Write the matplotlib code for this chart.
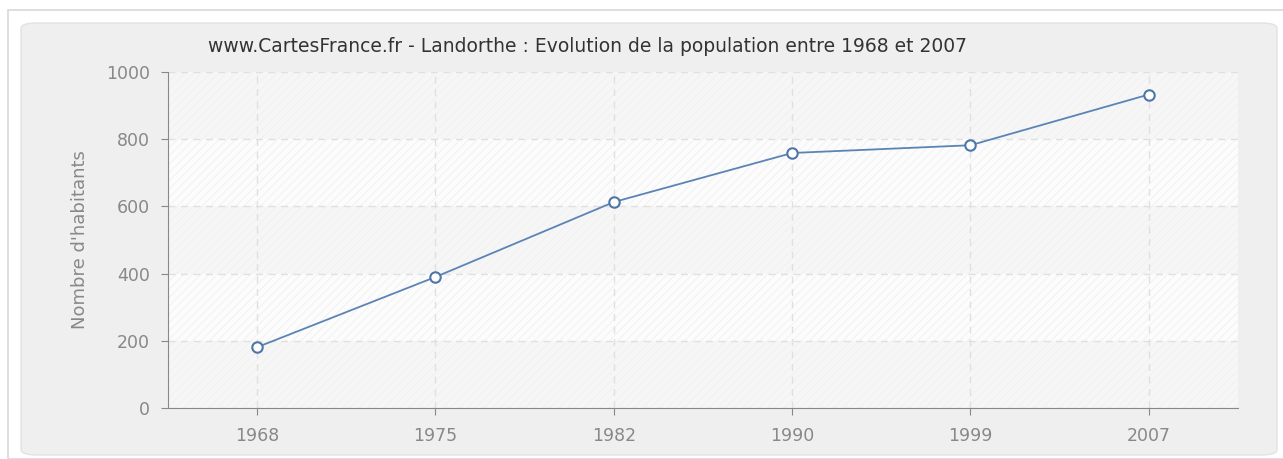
import matplotlib.pyplot as plt
from matplotlib.patches import FancyBboxPatch, Rectangle

years = ["1968", "1975", "1982", "1990", "1999", "2007"]
population = [181, 390, 613, 759, 782, 933]
yticks = [0, 200, 400, 600, 800, 1000]

plt.rcParams["font.family"] = ["DejaVu Sans"]
plt.rcParams["hatch.linewidth"] = 0.6

fig = plt.figure(figsize=(12.83, 4.59), dpi=100)
fig.patch.set_facecolor("white")

# outer frame and grey rounded panel (behind the axes)
fig.patches.append(Rectangle((8 / 1283, 0), 1.0, 449 / 459, transform=fig.transFigure,
                             facecolor="white", edgecolor="#d8d8d8", lw=1.2, zorder=-2))
fig.patches.append(FancyBboxPatch((21 / 1283, 4 / 459), 1256 / 1283, 432 / 459,
                                  boxstyle="round,pad=0,rounding_size=0.012",
                                  transform=fig.transFigure, facecolor="#efefef",
                                  edgecolor="#e2e2e2", lw=1, zorder=-1))

ax = fig.add_axes([168 / 1283, 51 / 459, 1070 / 1283, 336 / 459])
ax.set_facecolor("#fafafa")
x = range(len(years))
ax.set_xlim(-0.5, len(years) - 0.5)
ax.set_ylim(0, 1000)

# alternating bands with faint hatching
for i in range(5):
    ax.axhspan(i * 200, (i + 1) * 200, facecolor="#f6f6f6" if i % 2 == 0 else "#fcfcfc",
               edgecolor="#f0f0f0", hatch="////", lw=0, zorder=0)

ax.grid(True, color="#e0e0e0", ls=(0, (5, 4)), lw=1)
ax.set_axisbelow(True)
ax.plot(x, population, color="#5b84b5", lw=1.3, marker="o", ms=7.5,
        mfc="white", mec="#4e76a8", mew=1.5, zorder=3)

ax.set_xticks(list(x))
ax.set_xticklabels(years)
ax.set_yticks(yticks)
for s in ["top", "right"]:
    ax.spines[s].set_visible(False)
for s in ["left", "bottom"]:
    ax.spines[s].set_color("#888888")
ax.tick_params(colors="#888888", labelcolor="#888888", labelsize=12.5, length=5)
ax.tick_params(axis="x", pad=9)
ax.tick_params(axis="y", pad=8)
ax.set_ylabel("Nombre d'habitants", color="#888888", fontsize=13, labelpad=12)
fig.text(587 / 1283, 1 - 46 / 459,
         "www.CartesFrance.fr - Landorthe : Evolution de la population entre 1968 et 2007",
         ha="center", va="center", fontsize=13.5, color="#333333")

fig.savefig("out.png", dpi=100, facecolor=fig.get_facecolor())
